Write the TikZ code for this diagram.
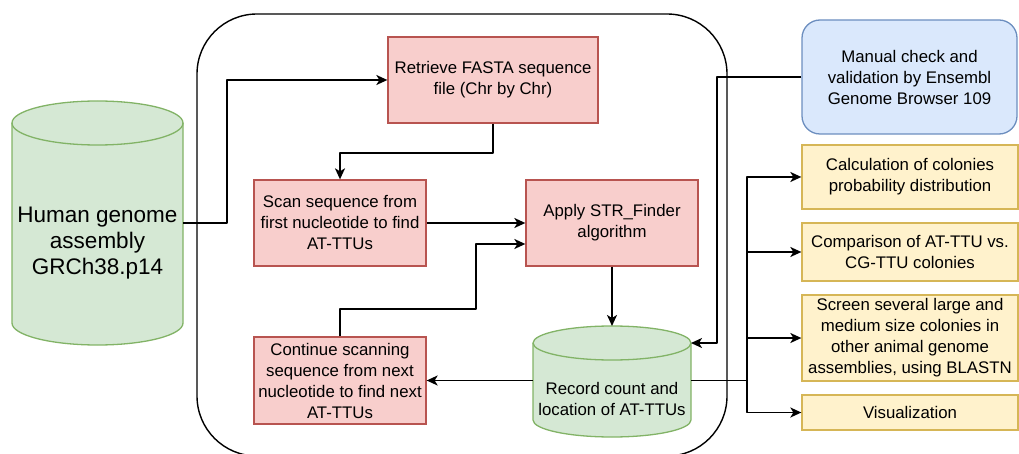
\documentclass[tikz,border=0pt]{standalone}
\usepackage{fontspec}
\setmainfont{Liberation Sans}
\usetikzlibrary{arrows.meta}
\definecolor{redfill}{HTML}{F8CECC}
\definecolor{redline}{HTML}{B85450}
\definecolor{greenfill}{HTML}{D5E8D4}
\definecolor{greenline}{HTML}{82B366}
\definecolor{bluefill}{HTML}{DAE8FC}
\definecolor{blueline}{HTML}{6C8EBF}
\definecolor{yellowfill}{HTML}{FFF2CC}
\definecolor{yellowline}{HTML}{D6B656}
\tikzset{
  box/.style={draw, line width=1.3pt, align=center, inner sep=0pt,
    font=\fontsize{16.8}{21}\selectfont},
  redbox/.style={box, draw=redline, fill=redfill, minimum width=172, minimum height=86},
  bluebox/.style={box, draw=blueline, fill=bluefill, rounded corners=18},
  yellowbox/.style={box, draw=yellowline, fill=yellowfill, minimum width=216},
  cyl/.style={draw=greenline, fill=greenfill, line width=1.3pt},
  label/.style={align=center, inner sep=0pt},
  conn/.style={line width=1.8pt, line join=round,
    -{Stealth[length=11pt, width=10pt, inset=3pt]}},
  frame/.style={line width=1.4pt, rounded corners=60},
}
\begin{document}
\begin{tikzpicture}[x=1pt, y=-1pt]
\useasboundingbox (0,0) rectangle (1019,454);

% outer container of the scanning loop
\draw[frame] (197,14) rectangle (727,456);

% genome assembly (cylinder)
\path[cyl] (12,123) -- (12,323)
  arc[start angle=180, end angle=0, x radius=85.5, y radius=22]
  -- (183,123)
  arc[start angle=0, end angle=-180, x radius=85.5, y radius=22] -- cycle;
\draw[draw=greenline, line width=1.3pt] (12,123)
  arc[start angle=180, end angle=0, x radius=85.5, y radius=22];
\node[label, font=\fontsize{22.5}{26}\selectfont] (human) at (97.5,243)
  {Human genome\\assembly\\GRCh38.p14};
\coordinate (humanR) at (183,223);

% record store (cylinder)
\path[cyl] (533,343) -- (533,420)
  arc[start angle=180, end angle=0, x radius=79, y radius=17]
  -- (691,343)
  arc[start angle=0, end angle=-180, x radius=79, y radius=17] -- cycle;
\draw[draw=greenline, line width=1.3pt] (533,343)
  arc[start angle=180, end angle=0, x radius=79, y radius=17];
\node[label, font=\fontsize{16.8}{21}\selectfont] (record) at (612,399)
  {Record count and\\location of AT-TTUs};
\coordinate (recTop) at (612,326);
\coordinate (recTR) at (691,343);
\coordinate (recL) at (533,380.5);
\coordinate (recR) at (691,380.5);

% process steps
\node[redbox, minimum width=210] (retr) at (493,80)
  {Retrieve FASTA sequence\\file (Chr by Chr)};
\node[redbox] (scan) at (340,223)
  {Scan sequence from\\first nucleotide to find\\AT-TTUs};
\node[redbox] (apply) at (612,223)
  {Apply STR\_Finder\\algorithm};
\node[redbox, minimum height=87] (cont) at (340,380.5)
  {Continue scanning\\sequence from next\\nucleotide to find next\\AT-TTUs};

% validation
\node[bluebox, minimum width=215, minimum height=114] (manual) at (909.5,77)
  {Manual check and\\validation by Ensembl\\Genome Browser 109};

% downstream analyses
\node[yellowbox, minimum height=64] (calc) at (910,177)
  {Calculation of colonies\\probability distribution};
\node[yellowbox, minimum height=58] (comp) at (910,252)
  {Comparison of AT-TTU vs.\\CG-TTU colonies};
\node[yellowbox, minimum height=86] (screen) at (910,338)
  {Screen several large and\\medium size colonies in\\other animal genome\\assemblies, using BLASTN};
\node[yellowbox, minimum height=35] (vis) at (910,412.5)
  {Visualization};

% connectors
\draw[conn] (humanR) -- ++(44,0) |- (retr.west);
\draw[conn] (retr.south) -- ++(0,29) -| (scan.north);
\draw[conn] (scan.east) -- (apply.west);
\draw[conn] (cont.north) |- (476,309) |- ([yshift=-21pt]apply.west);
\draw[conn] (apply.south) -- (recTop);
\draw[conn] (recL) -- (cont.east);
\draw[conn] (manual.west) -| (717,343) -- (recTR);

\coordinate (split) at (747,380.5);
\draw[line width=1.8pt] (recR) -- (split);
\draw[conn] (split) |- (calc.west);
\draw[conn] (split) |- (comp.west);
\draw[conn] (split) |- (screen.west);
\draw[conn] (split) |- (vis.west);
\end{tikzpicture}
\end{document}
